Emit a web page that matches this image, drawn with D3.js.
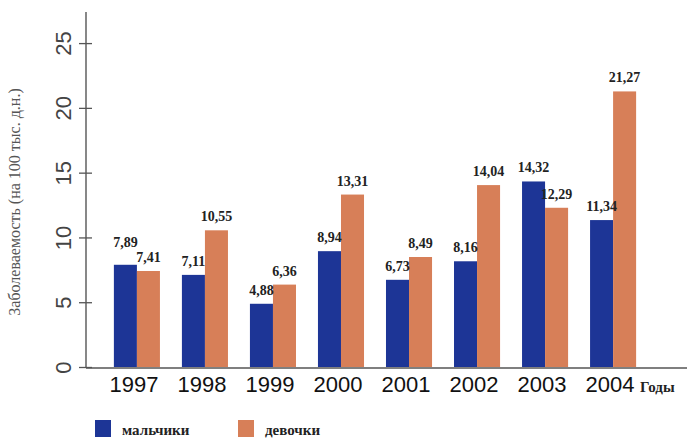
<!DOCTYPE html>
<html>
<head>
<meta charset="utf-8">
<script src="https://cdn.jsdelivr.net/npm/d3@7/dist/d3.min.js"></script>
<style>
  html, body { margin: 0; padding: 0; background: #ffffff; }
  svg { display: block; }
</style>
</head>
<body>
<svg id="chart" width="687" height="439"></svg>
<script>
// Incidence per 100 thousand, by year and sex
const years = ["1997", "1998", "1999", "2000", "2001", "2002", "2003", "2004"];
const boys  = [7.89, 7.11, 4.88, 8.94, 6.73, 8.16, 14.32, 11.34];
const girls = [7.41, 10.55, 6.36, 13.31, 8.49, 14.04, 12.29, 21.27];
const seriesKeys = ["boys", "girls"];
const seriesNames = ["мальчики", "девочки"];
const yTicks = [0, 5, 10, 15, 20, 25];
const yTitle = "Заболеваемость (на 100 тыс. д.н.)";
const xTitle = "Годы";

const colors = { boys: "#1d3596", girls: "#d77f58" };

const svg = d3.select("#chart");

const x = d3.scaleBand()
  .domain(years)
  .range([103, 647])
  .paddingInner(0.323)
  .paddingOuter(0.16);

const xSub = d3.scaleBand()
  .domain(seriesKeys)
  .range([0, x.bandwidth()]);

const y = d3.scaleLinear()
  .domain([0, 27.4])
  .range([367, 12]);

const rows = years.map((yr, i) => ({ year: yr, boys: boys[i], girls: girls[i] }));

// Bars
const groups = svg.append("g").selectAll("g")
  .data(rows)
  .join("g")
  .attr("transform", d => `translate(${x(d.year)},0)`);

groups.selectAll("rect")
  .data(d => seriesKeys.map(k => ({ key: k, value: d[k] })))
  .join("rect")
  .attr("x", d => xSub(d.key))
  .attr("y", d => y(d.value))
  .attr("width", xSub.bandwidth())
  .attr("height", d => y(0) - y(d.value))
  .attr("fill", d => colors[d.key]);

// Value labels, lifting the taller one when a pair would collide
const fmt = v => d3.format(".2f")(v).replace(".", ",");
groups.each(function (d) {
  const g = d3.select(this);
  const pos = {};
  seriesKeys.forEach(k => { pos[k] = y(d[k]) - 9; });
  if (Math.abs(pos.boys - pos.girls) < 13) {
    if (d.boys >= d.girls) pos.boys = pos.girls - 15;
    else pos.girls = pos.boys - 15;
  }
  seriesKeys.forEach(k => {
    g.append("text")
      .attr("x", xSub(k) + xSub.bandwidth() / 2)
      .attr("y", pos[k])
      .attr("text-anchor", "middle")
      .attr("font-family", "Liberation Serif, Times New Roman, serif")
      .attr("font-weight", "bold")
      .attr("font-size", 14)
      .attr("fill", "#222")
      .text(fmt(d[k]));
  });
});

// Y axis
const yAxis = svg.append("g")
  .attr("transform", "translate(86,0)")
  .call(d3.axisLeft(y).tickValues(yTicks).tickSize(7).tickFormat(d3.format("d")));
yAxis.select(".domain")
  .attr("stroke", "#555").attr("stroke-width", 1.4)
  .attr("d", `M0,${y(0) + 1}V${y(27.4)}`);
yAxis.selectAll(".tick line")
  .attr("stroke", "#555").attr("stroke-width", 1.3)
  .attr("x1", -7).attr("x2", 6);
yAxis.selectAll(".tick text")
  .attr("transform", "rotate(-90)")
  .attr("x", 0).attr("y", -23).attr("dy", "0.35em")
  .attr("text-anchor", "middle")
  .attr("font-family", "Liberation Sans, Arial, sans-serif")
  .attr("font-size", 22)
  .attr("fill", "#444");

// X axis baseline and year labels
svg.append("line")
  .attr("x1", 86).attr("x2", 687)
  .attr("y1", y(0) + 1).attr("y2", y(0) + 1)
  .attr("stroke", "#555").attr("stroke-width", 1.4);

const xAxis = svg.append("g")
  .attr("transform", `translate(0,${y(0)})`)
  .call(d3.axisBottom(x).tickSize(0));
xAxis.select(".domain").remove();
xAxis.selectAll(".tick text")
  .attr("x", -3).attr("y", 25).attr("dy", 0)
  .attr("font-family", "Liberation Sans, Arial, sans-serif")
  .attr("font-size", 22)
  .attr("fill", "#111");

svg.append("text")
  .attr("x", 640).attr("y", 392)
  .attr("font-family", "Liberation Serif, Times New Roman, serif")
  .attr("font-weight", "bold")
  .attr("font-size", 15)
  .attr("fill", "#222")
  .text(xTitle);

// Y axis title
svg.append("text")
  .attr("transform", "translate(20,202) rotate(-90)")
  .attr("text-anchor", "middle")
  .attr("font-family", "Liberation Serif, Times New Roman, serif")
  .attr("font-size", 16)
  .attr("fill", "#555")
  .text(yTitle);

// Legend
const legendX = [95, 238];
const legend = svg.append("g").selectAll("g")
  .data(seriesKeys)
  .join("g")
  .attr("transform", (d, i) => `translate(${legendX[i]},420)`);
legend.append("rect")
  .attr("width", 16).attr("height", 17)
  .attr("fill", d => colors[d]);
legend.append("text")
  .attr("x", 27).attr("y", 15)
  .attr("font-family", "Liberation Serif, Times New Roman, serif")
  .attr("font-weight", "bold")
  .attr("font-size", 15)
  .attr("fill", "#222")
  .text((d, i) => seriesNames[i]);
</script>
</body>
</html>
